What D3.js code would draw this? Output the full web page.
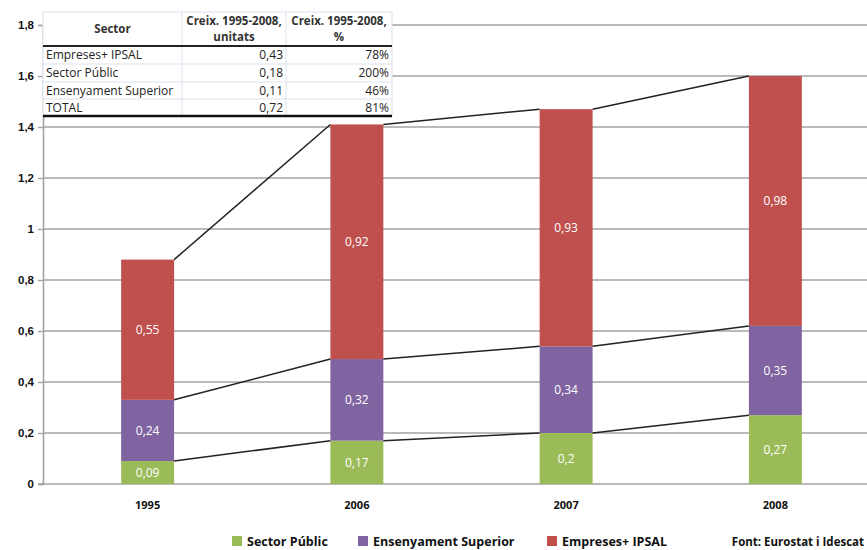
<!DOCTYPE html>
<html>
<head>
<meta charset="utf-8">
<script src="https://cdn.jsdelivr.net/npm/d3@7"></script>
<style>
  body { margin: 0; background: #fff; }
  svg { display: block; font-family: "Open Sans", sans-serif; }
</style>
</head>
<body>
<svg id="chart" width="867" height="550"></svg>
<script>
// Dades llegides del gràfic
const years = ["1995", "2006", "2007", "2008"];
const sectorPublic = [0.09, 0.17, 0.2, 0.27];
const ensenyament = [0.24, 0.32, 0.34, 0.35];
const empreses = [0.55, 0.92, 0.93, 0.98];

const seriesNames = ["Sector Públic", "Ensenyament Superior", "Empreses+ IPSAL"];
const seriesColors = ["#9bbb59", "#8064a2", "#c0504d"];
const yTicks = [0, 0.2, 0.4, 0.6, 0.8, 1, 1.2, 1.4, 1.6, 1.8];

// Taula de creixement
const tableHeader = ["Sector", "Creix. 1995-2008,|unitats", "Creix. 1995-2008,|%"];
const tableSectors = ["Empreses+ IPSAL", "Sector Públic", "Ensenyament Superior", "TOTAL"];
const tableUnits = ["0,43", "0,18", "0,11", "0,72"];
const tablePct = ["78%", "200%", "46%", "81%"];

const fmt = v => String(v).replace(".", ",");

const svg = d3.select("#chart");

const x = d3.scaleBand().domain(years).range([43, 880]).paddingInner(0.747).paddingOuter(0.3735);
const y = d3.scaleLinear().domain([0, 1.8]).range([484, 25]);

const rows = years.map((yr, i) => ({ year: yr, s0: sectorPublic[i], s1: ensenyament[i], s2: empreses[i] }));
const stacked = d3.stack().keys(["s0", "s1", "s2"])(rows);

// gridlines
svg.append("g").selectAll("line")
  .data(yTicks.filter(d => d > 0))
  .enter().append("line")
  .attr("x1", 43).attr("x2", 867)
  .attr("y1", d => y(d)).attr("y2", d => y(d))
  .attr("stroke", "#a3a3a3").attr("stroke-width", 1.6);

// y axis
const yAxis = svg.append("g")
  .attr("transform", "translate(43,0)")
  .call(d3.axisLeft(y).tickValues(yTicks).tickSize(5).tickFormat(fmt));
yAxis.select(".domain").attr("stroke", "#a3a3a3").attr("stroke-width", 1.6);
yAxis.selectAll(".tick line").attr("stroke", "#a3a3a3").attr("stroke-width", 1.4);
yAxis.selectAll(".tick text")
  .attr("x", -9)
  .style("font-size", "11.5px").style("font-weight", "bold").attr("fill", "#111");

// baseline
svg.append("line")
  .attr("x1", 38).attr("x2", 867).attr("y1", y(0)).attr("y2", y(0))
  .attr("stroke", "#a3a3a3").attr("stroke-width", 1.6);

// bars
const layers = svg.append("g").selectAll("g")
  .data(stacked).enter().append("g")
  .attr("fill", (d, i) => seriesColors[i]);

layers.selectAll("rect")
  .data(d => d).enter().append("rect")
  .attr("x", d => x(d.data.year))
  .attr("width", x.bandwidth())
  .attr("y", d => y(d[1]))
  .attr("height", d => y(d[0]) - y(d[1]));

// series lines between bars
stacked.forEach(layer => {
  const segs = d3.pairs(layer);
  svg.append("g").selectAll("line")
    .data(segs).enter().append("line")
    .attr("x1", d => x(d[0].data.year) + x.bandwidth())
    .attr("y1", d => y(d[0][1]))
    .attr("x2", d => x(d[1].data.year))
    .attr("y2", d => y(d[1][1]))
    .attr("stroke", "#222").attr("stroke-width", 1.5);
});

// value labels
layers.selectAll("text")
  .data(d => d).enter().append("text")
  .attr("x", d => x(d.data.year) + x.bandwidth() / 2)
  .attr("y", d => (y(d[0]) + y(d[1])) / 2)
  .attr("dy", "0.35em")
  .attr("text-anchor", "middle")
  .attr("fill", "#fff")
  .style("font-size", "12px")
  .text(d => fmt(+(d[1] - d[0]).toFixed(2)));

// x labels
svg.append("g").selectAll("text")
  .data(years).enter().append("text")
  .attr("x", d => x(d) + x.bandwidth() / 2)
  .attr("y", 509)
  .attr("text-anchor", "middle")
  .style("font-size", "11px").style("font-weight", "bold")
  .attr("fill", "#111")
  .text(d => d);

// legend
const legendX = [232, 358, 547];
const legend = svg.append("g").selectAll("g")
  .data(seriesNames).enter().append("g")
  .attr("transform", (d, i) => `translate(${legendX[i]},536)`);
legend.append("rect").attr("width", 10).attr("height", 10)
  .attr("fill", (d, i) => seriesColors[i]);
legend.append("text").attr("x", 15).attr("y", 9.5)
  .style("font-size", "12.5px").style("font-weight", "bold")
  .attr("fill", "#111").text(d => d);

svg.append("text")
  .attr("x", 864).attr("y", 546)
  .attr("text-anchor", "end")
  .style("font-size", "11.5px").style("font-weight", "bold")
  .attr("fill", "#111")
  .text("Font: Eurostat i Idescat");

// table overlay
const colX = [43, 182, 286, 392];
const rowY = [12, 46, 64, 82, 99, 116];
const tbl = svg.append("g");
tbl.append("rect")
  .attr("x", colX[0]).attr("y", rowY[0])
  .attr("width", colX[3] - colX[0]).attr("height", rowY[5] - rowY[0])
  .attr("fill", "#fff").attr("stroke", "#dbe3ee");
tbl.selectAll("line.v")
  .data(colX.slice(1, 3)).enter().append("line")
  .attr("x1", d => d).attr("x2", d => d)
  .attr("y1", rowY[0]).attr("y2", rowY[5])
  .attr("stroke", "#dbe3ee");
tbl.selectAll("line.h")
  .data(rowY.slice(2, 5)).enter().append("line")
  .attr("x1", colX[0]).attr("x2", colX[3])
  .attr("y1", d => d).attr("y2", d => d)
  .attr("stroke", "#dbe3ee");
tbl.append("line")
  .attr("x1", colX[0]).attr("x2", colX[3]).attr("y1", rowY[1]).attr("y2", rowY[1])
  .attr("stroke", "#222").attr("stroke-width", 2);
tbl.append("line")
  .attr("x1", colX[0]).attr("x2", colX[3]).attr("y1", rowY[5]).attr("y2", rowY[5])
  .attr("stroke", "#111").attr("stroke-width", 2.5);

tableHeader.forEach((h, i) => {
  const lines = h.split("|");
  const t = tbl.append("text")
    .attr("text-anchor", "middle")
    .style("font-size", "11.5px").style("font-weight", "bold").attr("fill", "#333");
  const cx = (colX[i] + colX[i + 1]) / 2;
  if (lines.length === 1) {
    t.attr("x", cx).attr("y", 33).text(lines[0]);
  } else {
    lines.forEach((l, j) => t.append("tspan").attr("x", cx).attr("y", 25 + j * 16).text(l));
  }
});

tableSectors.forEach((s, i) => {
  const cy = (rowY[i + 1] + rowY[i + 2]) / 2 + 4;
  tbl.append("text").attr("x", colX[0] + 3).attr("y", cy)
    .style("font-size", "12px").attr("fill", "#222").text(s);
  tbl.append("text").attr("x", colX[2] - 3).attr("y", cy).attr("text-anchor", "end")
    .style("font-size", "12px").attr("fill", "#222").text(tableUnits[i]);
  tbl.append("text").attr("x", colX[3] - 3).attr("y", cy).attr("text-anchor", "end")
    .style("font-size", "12px").attr("fill", "#222").text(tablePct[i]);
});
</script>
</body>
</html>
